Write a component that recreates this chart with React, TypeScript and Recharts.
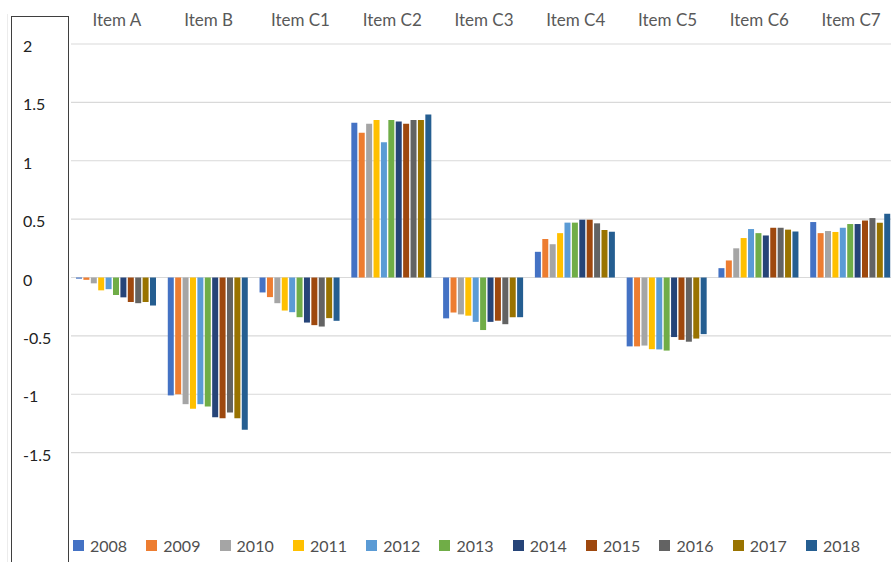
import React from "react";
import { BarChart, Bar, XAxis, YAxis, CartesianGrid } from "recharts";

const categories = ["Item A", "Item B", "Item C1", "Item C2", "Item C3", "Item C4", "Item C5", "Item C6", "Item C7"];

const years = ["2008", "2009", "2010", "2011", "2012", "2013", "2014", "2015", "2016", "2017", "2018"];

const colors = ["#4472C4", "#ED7D31", "#A5A5A5", "#FFC000", "#5B9BD5", "#70AD47", "#264478", "#9E480E", "#636363", "#997300", "#255E91"];

const itemA = [-0.01, -0.02, -0.05, -0.11, -0.1, -0.15, -0.17, -0.21, -0.22, -0.21, -0.24];
const itemB = [-1.01, -1.0, -1.085, -1.125, -1.085, -1.105, -1.197, -1.205, -1.157, -1.205, -1.305];
const itemC1 = [-0.128, -0.168, -0.22, -0.283, -0.297, -0.34, -0.386, -0.408, -0.42, -0.348, -0.371];
const itemC2 = [1.326, 1.24, 1.317, 1.348, 1.159, 1.348, 1.337, 1.317, 1.348, 1.348, 1.397];
const itemC3 = [-0.35, -0.3, -0.316, -0.327, -0.38, -0.45, -0.38, -0.37, -0.4, -0.34, -0.34];
const itemC4 = [0.22, 0.33, 0.285, 0.38, 0.47, 0.47, 0.495, 0.495, 0.464, 0.407, 0.392];
const itemC5 = [-0.59, -0.59, -0.583, -0.614, -0.616, -0.626, -0.51, -0.534, -0.55, -0.523, -0.485];
const itemC6 = [0.08, 0.146, 0.25, 0.338, 0.415, 0.38, 0.36, 0.426, 0.426, 0.41, 0.394];
const itemC7 = [0.475, 0.38, 0.398, 0.39, 0.426, 0.458, 0.458, 0.488, 0.509, 0.469, 0.546];

const yTicks = [-1.5, -1, -0.5, 0, 0.5, 1, 1.5, 2];

const seriesByItem = [itemA, itemB, itemC1, itemC2, itemC3, itemC4, itemC5, itemC6, itemC7];

const data = categories.map((name, i) => {
  const row: Record<string, any> = { name };
  years.forEach((y, j) => {
    row[y] = seriesByItem[i][j];
  });
  return row;
});

const FONT = "Lato, 'Open Sans', sans-serif";

const TopTick = (props: any) => {
  const { x, payload } = props;
  return (
    <text x={x} y={26} textAnchor="middle" fill="#595959" fontSize={17} fontWeight={400} fontFamily={FONT}>
      {payload.value}
    </text>
  );
};

const LeftTick = (props: any) => {
  const { y, payload } = props;
  return (
    <text x={23} y={y + 8} textAnchor="start" fill="#222" fontSize={16} fontWeight={400} fontFamily={FONT}>
      {String(payload.value)}
    </text>
  );
};

export default function App() {
  return (
    <div style={{ position: "absolute", left: 0, top: 0, width: 891, height: 562, overflow: "hidden", background: "#fff" }}>
      <div style={{ position: "absolute", left: 7, top: 14, width: 1, height: 548, background: "#ececec" }} />
      <BarChart
        width={897}
        height={562}
        data={data}
        margin={{ top: 14, right: 0, bottom: 51, left: 0 }}
        barCategoryGap={5}
        barGap={1.4}
      >
        <CartesianGrid vertical={false} stroke="#d9d9d9" strokeWidth={1.2} horizontalValues={yTicks} />
        <XAxis
          dataKey="name"
          orientation="top"
          height={30}
          axisLine={false}
          tickLine={false}
          tick={<TopTick />}
          interval={0}
        />
        <YAxis
          width={71}
          domain={[-2, 2]}
          ticks={yTicks}
          axisLine={false}
          tickLine={false}
          tick={<LeftTick />}
          interval={0}
        />
        {years.map((y, i) => (
          <Bar key={y} dataKey={y} fill={colors[i]} isAnimationActive={false} />
        ))}
      </BarChart>
      <div
        style={{
          position: "absolute",
          left: 73,
          top: 535,
          display: "flex",
          fontFamily: FONT,
          fontWeight: 400,
          fontSize: 16,
          color: "#505050",
          height: 20,
          alignItems: "center",
        }}
      >
        {years.map((y, i) => (
          <div key={y} style={{ width: 73.3, display: "flex", alignItems: "center" }}>
            <span style={{ display: "inline-block", width: 11, height: 11, background: colors[i], marginRight: 6 }} />
            <span>{y}</span>
          </div>
        ))}
      </div>
      <div
        style={{
          position: "absolute",
          left: 11,
          top: 16,
          width: 58,
          height: 560,
          border: "1.5px solid #3f3f3f",
          boxSizing: "border-box",
          pointerEvents: "none",
        }}
      />
    </div>
  );
}
